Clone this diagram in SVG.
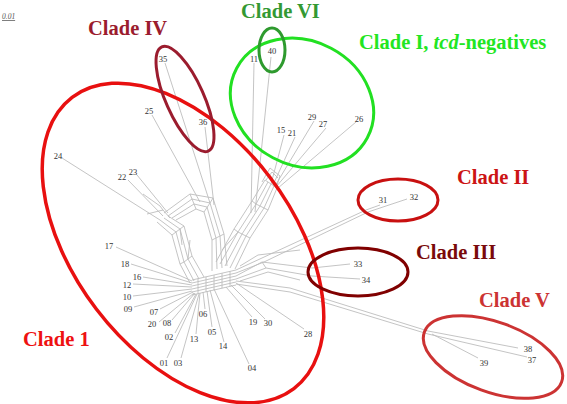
<svg xmlns="http://www.w3.org/2000/svg" width="567" height="404" viewBox="0 0 567 404" font-family="'Liberation Serif', 'Times New Roman', serif">
<style>
.n{fill:none;stroke:#bdbdbd;stroke-width:0.9;stroke-linejoin:round}
.l{font-family:'Liberation Serif','Times New Roman',serif;font-size:8.5px;fill:#333;text-anchor:middle}
.t{font-family:'Liberation Serif','Times New Roman',serif;font-size:20.5px;font-weight:bold}
.e{fill:none}
</style>
<rect width="567" height="404" fill="#fff"/>
<g id="connectors">
<!-- hub grid -->
<path class="n" d="M192,280L236,270M192,283L236,273M192,286L236,276M192,289L236,279M192,292L236,282M192,295L236,285"/>
<path class="n" d="M198,278.6V293.6M206,276.8V291.8M214,275V290M222,273.2V288.2M230,271.4V286.4"/>
<!-- upper-left ladder -->
<path class="n" d="M160,220L176,232L184,262L194,281M164,218L180,229L188,259L199,279M168,216L184,226L192,256L204,277M157,222L172,235L180,264L190,283"/>
<path class="n" d="M176,232L184,226M184,262L192,256M180,229L182,245M188,259L190,240M172,235L176,232M180,264L184,262"/>
<path class="n" d="M168,216L192,199L210,203L220,236L222,268M172,218L194,204L207,207L216,238L217,269M176,220L196,209L204,212L212,240L212,271M164,213L190,194L213,198L224,234L227,266"/>
<path class="n" d="M192,199L196,209M210,203L204,212M220,236L212,240M190,194L192,199M213,198L210,203M224,234L220,236"/>
<path class="n" d="M147,214L163,210L170,218M143,194L160,206L163,210"/>
<!-- upper bundle -->
<path class="n" d="M220,264L238,232L256,204L268,182M225,266L242,234L260,206L271,184M230,268L246,236L264,208L274,186M235,269L250,238L268,210L277,188M216,262L234,229L252,201L265,180"/>
<path class="n" d="M238,232L250,238M256,204L268,210M268,182L277,188M222,250L238,232M234,229L238,232M252,201L256,204M265,180L268,182"/>
<path class="n" d="M262,182L270,168L280,176L276,188M266,180L272,172L278,178"/>
<!-- right bundles -->
<path class="n" d="M236,270L262,258L366,210M236,273L264,262L368,212M240,266L258,255L300,250"/>
<path class="n" d="M236,276L262,262L312,268L350,264M236,279L266,268L312,276L360,279M262,262L266,268M240,281L268,272L300,280"/>
<path class="n" d="M236,281L290,288L428,331M236,284L290,292L428,334"/>
<!-- leaves -->
<path class="n" d="M62,158L160,220M128,180L163,216M137,175L168,213"/>
<path class="n" d="M165,63L210,203M152,115L200,202M205,127L214,205M254,63L251,213M271,57L255,212"/>
<path class="n" d="M271,184L284,135M273,185L295,137M275,186L314,121M276,187L326,128M278,188L356,122"/>
<path class="n" d="M366,210L380,205M368,212L407,199"/>
<path class="n" d="M428,331L518,348M428,334L527,357M432,334L478,358"/>
<path class="n" d="M252,317L226,287M265,319L231,285M304,329L236,283M249,364L214,289M224,342L210,290M212,327L207,291M205,309L203,292M196,334L200,293M181,358L199,294M167,358L197,294M175,333L196,294M172,320L195,293M159,322L194,293M160,309L193,292M134,307L192,291M133,296L192,289M133,284L192,287M143,277L192,285M131,264L192,283M116,247L192,281"/>
</g>
<g id="clade-1"><ellipse class="e" cx="183" cy="243" rx="183" ry="109" transform="rotate(52.7 183 243)" stroke="#e81010" stroke-width="3.5"/>
<text class="t" x="23" y="346" fill="#ee1111">Clade 1</text></g>
<g id="clade-IV"><ellipse class="e" cx="185" cy="99" rx="57" ry="19" transform="rotate(66 185 99)" stroke="#9b1c2e" stroke-width="3"/>
<text class="t" x="88" y="35" fill="#9b1c2e">Clade IV</text></g>
<g id="clade-I-tcd"><ellipse class="e" cx="302" cy="103" rx="74" ry="62" transform="rotate(28 302 103)" stroke="#22e022" stroke-width="3"/>
<text class="t" x="359" y="49" fill="#22e622">Clade I, <tspan font-style="italic">tcd</tspan>-negatives</text></g>
<g id="clade-VI"><ellipse class="e" cx="272" cy="50" rx="13" ry="22" stroke="#2e9a2e" stroke-width="3"/>
<text class="t" x="241" y="18" fill="#339933">Clade VI</text></g>
<g id="clade-II"><ellipse class="e" cx="398" cy="200" rx="40" ry="21" stroke="#c81010" stroke-width="3"/>
<text class="t" x="457" y="184" fill="#cc1414">Clade II</text></g>
<g id="clade-III"><ellipse class="e" cx="358" cy="272" rx="50" ry="24" stroke="#800000" stroke-width="3"/>
<text class="t" x="416" y="259" fill="#7a0a0a">Clade III</text></g>
<g id="clade-V"><ellipse class="e" cx="493" cy="357" rx="73" ry="35" transform="rotate(20 493 357)" stroke="#cc3333" stroke-width="3"/>
<text class="t" x="479" y="307" fill="#cc3333">Clade V</text></g>
<g id="scale"><text x="2" y="19" font-size="7.5" font-style="italic" fill="#555" text-decoration="underline">0.01</text></g>
<g id="labels">
<text class="l" x="163" y="62">35</text><text class="l" x="149" y="114">25</text><text class="l" x="203" y="125">36</text>
<text class="l" x="254" y="62">11</text><text class="l" x="272" y="54">40</text>
<text class="l" x="281" y="133">15</text><text class="l" x="292" y="136">21</text><text class="l" x="312" y="120">29</text><text class="l" x="323" y="127">27</text><text class="l" x="359" y="122">26</text>
<text class="l" x="58" y="159">24</text><text class="l" x="122" y="180">22</text><text class="l" x="133" y="175">23</text>
<text class="l" x="109" y="249">17</text><text class="l" x="125" y="267">18</text><text class="l" x="137" y="280">16</text><text class="l" x="127" y="288">12</text><text class="l" x="127" y="300">10</text><text class="l" x="128" y="312">09</text>
<text class="l" x="154" y="315">07</text><text class="l" x="152" y="327">20</text><text class="l" x="167" y="326">08</text><text class="l" x="169" y="340">02</text>
<text class="l" x="194" y="342">13</text><text class="l" x="164" y="366">01</text><text class="l" x="178" y="366">03</text>
<text class="l" x="203" y="317">06</text><text class="l" x="212" y="335">05</text><text class="l" x="223" y="349">14</text><text class="l" x="252" y="371">04</text>
<text class="l" x="253" y="325">19</text><text class="l" x="268" y="326">30</text><text class="l" x="308" y="337">28</text>
<text class="l" x="358" y="267">33</text><text class="l" x="366" y="283">34</text>
<text class="l" x="383" y="203">31</text><text class="l" x="414" y="200">32</text>
<text class="l" x="528" y="352">38</text><text class="l" x="532" y="363">37</text><text class="l" x="484" y="366">39</text>
</g>
</svg>
